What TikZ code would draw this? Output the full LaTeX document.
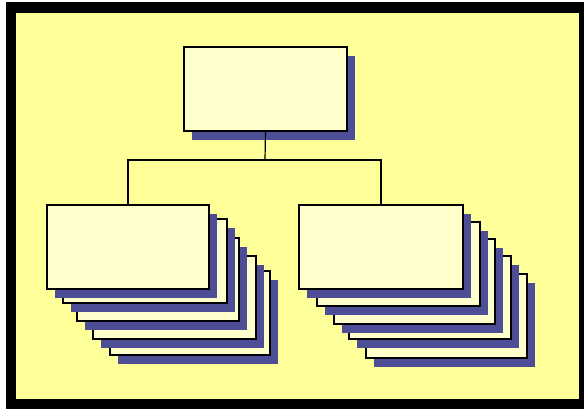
\documentclass[tikz,border=0pt]{standalone}
\usetikzlibrary{shadows}
\definecolor{bgyellow}{RGB}{255,255,153}
\definecolor{boxfill}{RGB}{255,255,204}
\definecolor{shadowc}{RGB}{78,78,150}
\tikzset{
  card/.style={draw=black, line width=1.4bp, fill=boxfill, inner sep=0pt, outer sep=0pt,
    anchor=north west,
    drop shadow={shadow xshift=8bp, shadow yshift=-9bp, fill=shadowc, opacity=1}},
  link/.style={draw=black, line width=1.2bp}
}
\begin{document}
\begin{tikzpicture}[x=1bp,y=-1bp]
\useasboundingbox (0,0) rectangle (584,409);
\fill[black] (6,2) rectangle (584,409);
\fill[bgyellow] (16,13) rectangle (579,399);
% top box
\node[card, minimum width=163bp, minimum height=84bp] (T) at (184,47) {};
% connectors
\coordinate (J) at (265,160);
\draw[link] (T.south) -- (J);
% left stack (back to front)
\node[card, minimum width=160bp, minimum height=84bp] (L5) at (110,271) {};
\node[card, minimum width=163bp, minimum height=83bp] (L4) at (93,256) {};
\node[card, minimum width=162bp, minimum height=83bp] (L3) at (77,238) {};
\node[card, minimum width=164bp, minimum height=84bp] (L2) at (63,219) {};
\node[card, minimum width=162bp, minimum height=84bp] (L1) at (47,205) {};
% right stack (back to front)
\node[card, minimum width=161bp, minimum height=84bp] (R5) at (366,274) {};
\node[card, minimum width=162bp, minimum height=83bp] (R4) at (349,256) {};
\node[card, minimum width=161bp, minimum height=85bp] (R3) at (334,239) {};
\node[card, minimum width=163bp, minimum height=84bp] (R2) at (317,222) {};
\node[card, minimum width=164bp, minimum height=84bp] (R1) at (299,205) {};
\draw[link] (L1.north) |- (J) -| (R1.north);
\end{tikzpicture}
\end{document}
